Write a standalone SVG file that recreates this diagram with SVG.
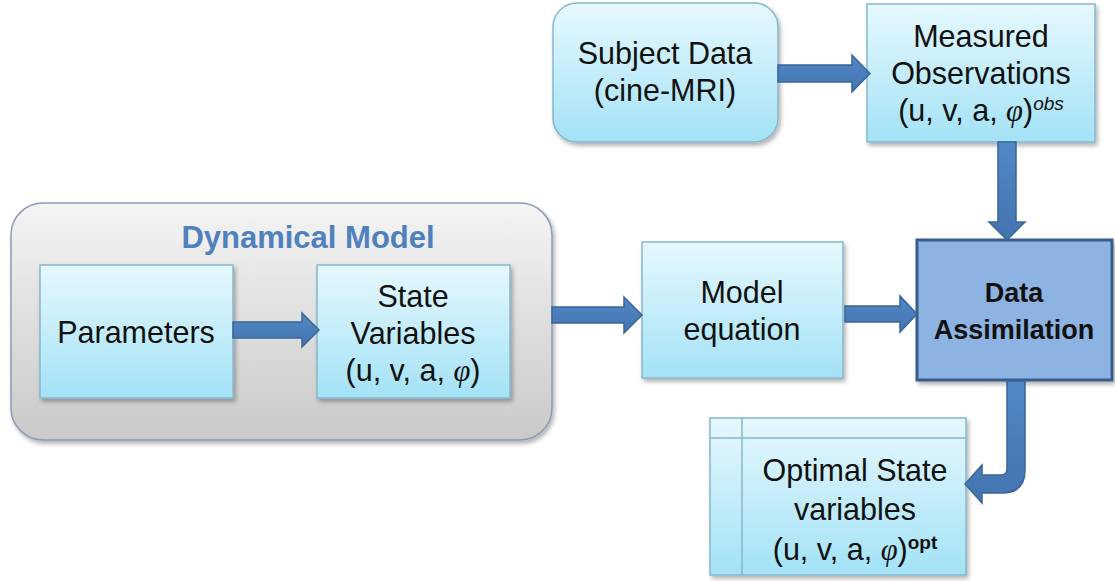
<svg xmlns="http://www.w3.org/2000/svg" width="1115" height="581" viewBox="0 0 1115 581">
<defs>
<linearGradient id="cyan" x1="0" y1="0" x2="0" y2="1">
<stop offset="0" stop-color="#e6f8fd"/>
<stop offset="1" stop-color="#a3e2f6"/>
</linearGradient>
<linearGradient id="gray" x1="0" y1="0" x2="0" y2="1">
<stop offset="0" stop-color="#f4f4f4"/>
<stop offset="1" stop-color="#c9c9c9"/>
</linearGradient>
<linearGradient id="arr" x1="0" y1="0" x2="0" y2="1">
<stop offset="0" stop-color="#5289c6"/>
<stop offset="1" stop-color="#4274b0"/>
</linearGradient>
<filter id="sh" x="-10%" y="-10%" width="125%" height="130%">
<feDropShadow dx="2" dy="3" stdDeviation="2" flood-color="#000" flood-opacity="0.3"/>
</filter>
</defs>
<style>
.box{fill:url(#cyan);stroke:#86b8cc;stroke-width:1.5;filter:url(#sh)}
.t{font-family:"Liberation Sans",Arial,sans-serif;font-size:30.5px;fill:#111;text-anchor:middle}
.phi{font-family:"Liberation Serif","DejaVu Serif",serif;font-style:italic}
.a{fill:url(#arr);stroke:#3a6698;stroke-width:1.5;stroke-linejoin:miter}
</style>
<g id="dynamical-model">
<rect x="11" y="203" width="541" height="237" rx="32" fill="url(#gray)" stroke="#8c9bb5" stroke-width="1.5" filter="url(#sh)"/>
<text x="308" y="248" class="t" style="font-weight:bold;font-size:31px;fill:#4f81bd">Dynamical Model</text>
</g>
<g id="parameters">
<rect class="box" x="40" y="265" width="193" height="133"/>
<text class="t" x="136" y="343">Parameters</text>
</g>
<g id="state-variables">
<rect class="box" x="317" y="265" width="193" height="133"/>
<text class="t" x="413" y="307">State</text>
<text class="t" x="413" y="344">Variables</text>
<text class="t" x="413" y="381">(u, v, a, <tspan class="phi">φ</tspan>)</text>
</g>
<g id="subject-data">
<rect class="box" x="553" y="3" width="225" height="139" rx="24"/>
<text class="t" x="665" y="64">Subject Data</text>
<text class="t" x="665" y="101">(cine-MRI)</text>
</g>
<g id="measured-observations">
<rect class="box" x="867" y="4" width="228" height="138"/>
<text class="t" x="981" y="47">Measured</text>
<text class="t" x="981" y="84">Observations</text>
<text class="t" x="981" y="121">(u, v, a, <tspan class="phi">φ</tspan>)<tspan dy="-11" style="font-size:19px;font-style:italic">obs</tspan></text>
</g>
<g id="model-equation">
<rect class="box" x="642" y="242" width="201" height="136"/>
<text class="t" x="742" y="303">Model</text>
<text class="t" x="742" y="340">equation</text>
</g>
<g id="data-assimilation">
<rect x="917" y="240" width="195" height="140" fill="#8db3e2" stroke="#385d8a" stroke-width="3" filter="url(#sh)"/>
<text class="t" x="1014" y="302" style="font-weight:bold;font-size:27px">Data</text>
<text class="t" x="1014" y="339" style="font-weight:bold;font-size:27px">Assimilation</text>
</g>
<g id="optimal-state">
<rect class="box" x="710" y="418" width="256" height="157"/>
<line x1="742" y1="418" x2="742" y2="575" stroke="#86b8cc" stroke-width="1.5"/>
<line x1="710" y1="438" x2="966" y2="438" stroke="#86b8cc" stroke-width="1.5"/>
<text class="t" x="855" y="481">Optimal State</text>
<text class="t" x="855" y="520">variables</text>
<text class="t" x="855" y="560">(u, v, a, <tspan class="phi">φ</tspan>)<tspan dy="-11" style="font-size:19px;font-weight:bold">opt</tspan></text>
</g>
<g id="connectors">
<polygon class="a" points="778,65 852,65 852,55 870,73.5 852,92 852,82 778,82"/>
<polygon class="a" points="233,322 302,322 302,313 319,330 302,347 302,338 233,338"/>
<polygon class="a" points="552,307 624,307 624,297 642,315 624,333 624,323 552,323"/>
<polygon class="a" points="845,306 900,306 900,296 917,314 900,332 900,322 845,322"/>
<polygon class="a" points="998,142 1016,142 1016,222 1025,222 1007,240 989,222 998,222"/>
<path class="a" d="M1007,381 L1025,381 L1025,470 Q1025,493 1002,493 L982,493 L982,503 L965,484 L982,465 L982,475 L1001,475 Q1007,475 1007,469 Z"/>
</g>
</svg>
